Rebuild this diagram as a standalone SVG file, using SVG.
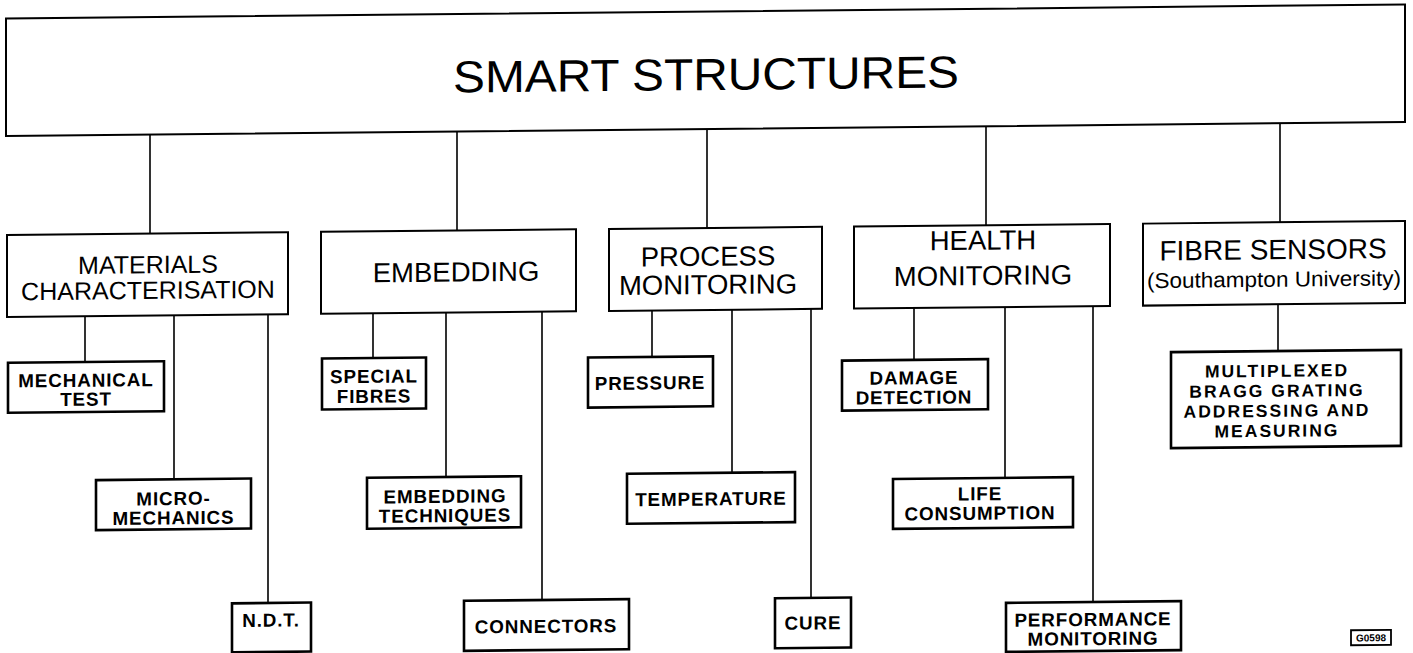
<svg xmlns="http://www.w3.org/2000/svg" width="1413" height="653" viewBox="0 0 1413 653">
  <style>
    .box { fill: #fff; stroke: #000; stroke-width: 2; }
    .sub { fill: #fff; stroke: #000; stroke-width: 2.6; }
    .wire { stroke: #000; stroke-width: 1.6; fill: none; }
    text { font-family: "Liberation Sans", Arial, Helvetica, sans-serif; fill: #000; text-anchor: middle; }
    .t0 { font-size: 45px; }
    .t1 { font-size: 27.5px; }
    .t1s { font-size: 25px; }
    .t2 { font-size: 18.8px; font-weight: bold; letter-spacing: 0.9px; }
    .t3 { font-size: 17.5px; font-weight: bold; letter-spacing: 2px; }
    .tag { font-size: 10px; font-weight: bold; }
  </style>
  <rect width="1413" height="653" fill="#fff"/>
  <!-- whole sheet carries a slight downward slant to the left -->
  <g transform="matrix(1 -0.01 0 1 0 7.06)">
    <g id="connectors">
      <path class="wire" d="M150 129V228M457 129V228M707 129V228M986 129V228M1280 129V228"/>
      <path class="wire" d="M85 310V355.8M174 310V474M268 310V598.6"/>
      <path class="wire" d="M373 310V354.7M446 310V474.4M542 310V598.4"/>
      <path class="wire" d="M652 310V356.4M732 310V473M811 310V599"/>
      <path class="wire" d="M914 310V362M1005 310V480.8M1093 310V605.9"/>
      <path class="wire" d="M1278 310V356.8"/>
    </g>

    <g id="smart-structures">
      <rect class="box" x="6" y="11.5" width="1399" height="117.5"/>
      <text class="t0" x="706" y="90" textLength="506" lengthAdjust="spacingAndGlyphs">SMART STRUCTURES</text>
    </g>

    <g id="materials">
      <rect class="box" x="7" y="228" width="281" height="82"/>
      <text class="t1s" x="148" y="267.7">MATERIALS</text>
      <text class="t1s" x="148" y="293.4">CHARACTERISATION</text>
    </g>
    <g id="embedding">
      <rect class="box" x="321" y="228" width="255" height="82"/>
      <text class="t1" x="456" y="279">EMBEDDING</text>
    </g>
    <g id="process">
      <rect class="box" x="609" y="228" width="213" height="82"/>
      <text class="t1" x="708" y="265.8">PROCESS</text>
      <text class="t1" x="708" y="294.1">MONITORING</text>
    </g>
    <g id="health">
      <rect class="box" x="854" y="228" width="256" height="82"/>
      <text class="t1" x="983" y="252.5">HEALTH</text>
      <text class="t1" x="983" y="287.8">MONITORING</text>
    </g>
    <g id="fibre-sensors">
      <rect class="box" x="1143" y="228" width="262" height="82"/>
      <text class="t1" x="1273" y="265" style="font-size:28px">FIBRE SENSORS</text>
      <text x="1274" y="292.4" style="font-size:21.5px" textLength="254" lengthAdjust="spacingAndGlyphs">(Southampton University)</text>
    </g>

    <g id="mechanical-test">
      <rect class="sub" x="8" y="355.8" width="156" height="50"/>
      <text class="t2" x="86" y="380.5">MECHANICAL</text>
      <text class="t2" x="86" y="399.5">TEST</text>
    </g>
    <g id="micro-mechanics">
      <rect class="sub" x="96" y="474" width="155" height="50"/>
      <text class="t2" x="173.5" y="499.7">MICRO-</text>
      <text class="t2" x="173.5" y="519">MECHANICS</text>
    </g>
    <g id="ndt">
      <rect class="sub" x="232" y="598.6" width="79" height="49"/>
      <text class="t2" x="271" y="622.3">N.D.T.</text>
    </g>
    <g id="special-fibres">
      <rect class="sub" x="322" y="354.7" width="104" height="51"/>
      <text class="t2" x="374" y="379.5">SPECIAL</text>
      <text class="t2" x="374" y="399.4">FIBRES</text>
    </g>
    <g id="embedding-techniques">
      <rect class="sub" x="367" y="474.4" width="154" height="51"/>
      <text class="t2" x="445" y="500.2">EMBEDDING</text>
      <text class="t2" x="445" y="519.5">TECHNIQUES</text>
    </g>
    <g id="connectors-node">
      <rect class="sub" x="464" y="598.4" width="165" height="50"/>
      <text class="t2" x="546" y="631.2">CONNECTORS</text>
    </g>
    <g id="pressure">
      <rect class="sub" x="588" y="356.4" width="125" height="50"/>
      <text class="t2" x="650" y="388.9">PRESSURE</text>
    </g>
    <g id="temperature">
      <rect class="sub" x="627" y="473" width="168" height="50"/>
      <text class="t2" x="711" y="505.5">TEMPERATURE</text>
    </g>
    <g id="cure">
      <rect class="sub" x="775" y="599" width="76" height="50"/>
      <text class="t2" x="813" y="630.5">CURE</text>
    </g>
    <g id="damage-detection">
      <rect class="sub" x="842" y="362" width="146" height="50"/>
      <text class="t2" x="914" y="386.4">DAMAGE</text>
      <text class="t2" x="914" y="406">DETECTION</text>
    </g>
    <g id="life-consumption">
      <rect class="sub" x="893" y="480.8" width="180" height="50"/>
      <text class="t2" x="980" y="503">LIFE</text>
      <text class="t2" x="980" y="522.5">CONSUMPTION</text>
    </g>
    <g id="performance-monitoring">
      <rect class="sub" x="1006" y="605.9" width="175" height="49"/>
      <text class="t2" x="1093" y="629.8">PERFORMANCE</text>
      <text class="t2" x="1093" y="649">MONITORING</text>
    </g>
    <g id="bragg-grating">
      <rect class="sub" x="1171" y="356.8" width="230" height="96"/>
      <text class="t3" x="1277" y="382.5">MULTIPLEXED</text>
      <text class="t3" x="1277" y="402.5">BRAGG GRATING</text>
      <text class="t3" x="1277" y="422.5">ADDRESSING AND</text>
      <text class="t3" x="1277" y="442.5">MEASURING</text>
    </g>
    <g id="figure-tag">
      <rect class="sub" x="1351" y="636.7" width="40" height="15" style="stroke-width:1.8"/>
      <text class="tag" x="1371" y="648">G0598</text>
    </g>
  </g>
</svg>
